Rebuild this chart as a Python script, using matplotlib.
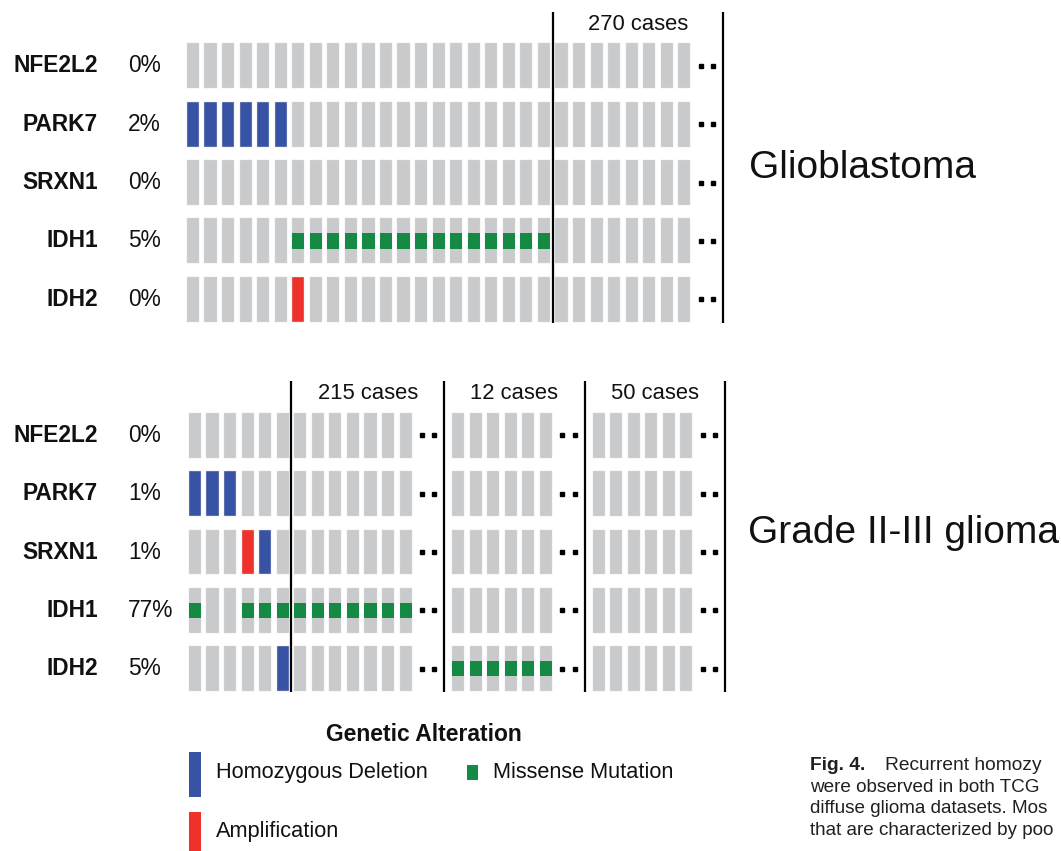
import matplotlib.pyplot as plt
import matplotlib.transforms as mtransforms

plt.rcParams['font.family'] = ['Liberation Sans', 'DejaVu Sans']

genes = ['NFE2L2', 'PARK7', 'SRXN1', 'IDH1', 'IDH2']

# Glioblastoma panel
gbm_pct = ['0%', '2%', '0%', '5%', '0%']
gbm_blocks = [21, 8]                 # shown samples per block
gbm_dotted = [False, True]           # block is followed by ".."
gbm_case_labels = [None, '270 cases']
gbm_deletion = {'PARK7': [0, 1, 2, 3, 4, 5]}
gbm_amplification = {'IDH2': [6]}
gbm_missense = {'IDH1': [6, 7, 8, 9, 10, 11, 12, 13, 14, 15, 16, 17, 18, 19, 20]}

# Grade II-III glioma panel
lgg_pct = ['0%', '1%', '1%', '77%', '5%']
lgg_blocks = [6, 7, 6, 6]
lgg_dotted = [False, True, True, True]
lgg_case_labels = [None, '215 cases', '12 cases', '50 cases']
lgg_deletion = {'PARK7': [0, 1, 2], 'SRXN1': [4], 'IDH2': [5]}
lgg_amplification = {'SRXN1': [3]}
lgg_missense = {'IDH1': [0, 3, 4, 5, 6, 7, 8, 9, 10, 11, 12],
                'IDH2': [13, 14, 15, 16, 17, 18]}

legend_labels = ['Homozygous Deletion', 'Missense Mutation', 'Amplification']
legend_kinds = ['deletion', 'missense', 'amplification']

colors = {'none': '#c9cacc', 'deletion': '#3953a4',
          'amplification': '#ee322b', 'missense': '#168a45'}
text_col = '#111111'


def layout(blocks, dotted):
    # x position of every shown sample, dividers, dots and label spans
    xs, dividers, dots, spans = [], [], [], []
    x = 0
    left = -0.5
    for n, d in zip(blocks, dotted):
        xs += [x + k for k in range(n)]
        end = x + n - 1
        if d:
            dots += [end + 0.93, end + 1.64]
            div = end + 2.2
            x = end + 3
        else:
            div = end + 0.5
            x = end + 1
        dividers.append(div)
        spans.append((left, div))
        left = div
    return xs, dividers, dots, spans


def draw_panel(ax, pct, blocks, dotted, case_labels, deletion, amplification, missense):
    xs, dividers, dots, spans = layout(blocks, dotted)
    h = 0.77
    w = 0.69
    trans = mtransforms.blended_transform_factory(fig.transFigure, ax.transData)
    for r, g in enumerate(genes):
        full = [colors['none']] * len(xs)
        for i in deletion.get(g, []):
            full[i] = colors['deletion']
        for i in amplification.get(g, []):
            full[i] = colors['amplification']
        ax.bar(xs, h, bottom=r - h / 2, width=w, color=full,
               edgecolor='#dcdddf', linewidth=0.3)
        mis = missense.get(g, [])
        if mis:
            ax.bar([xs[i] for i in mis], 0.26, bottom=r - 0.13, width=w,
                   color=colors['missense'], linewidth=0)
        ax.plot(dots, [r] * len(dots), 's', color='black', markersize=3.3,
                linestyle='none')
        ax.text(0.0924, r, g, transform=trans, ha='right', va='center',
                fontsize=16.4, fontweight='bold', color=text_col)
        ax.text(0.1206, r, pct[r], transform=trans, ha='left', va='center',
                fontsize=16.4, color=text_col)
    for div in dividers:
        ax.vlines(div, -0.92, 4.40, color='black', linewidth=1.6)
    for (a, b), lab in zip(spans, case_labels):
        if lab:
            ax.text((a + b) / 2, -0.71, lab, ha='center', va='center',
                    fontsize=15.8, color=text_col)
    ax.set_xlim(-0.5, 31)
    ax.set_ylim(4.5, -1.0)
    ax.axis('off')


fig = plt.figure(figsize=(10.61, 8.51), dpi=100)
ax_top = fig.add_axes([0.1736, 0.6139, 0.5210, 0.3774])
ax_bot = fig.add_axes([0.1755, 0.1798, 0.5210, 0.3774])

draw_panel(ax_top, gbm_pct, gbm_blocks, gbm_dotted, gbm_case_labels,
           gbm_deletion, gbm_amplification, gbm_missense)
draw_panel(ax_bot, lgg_pct, lgg_blocks, lgg_dotted, lgg_case_labels,
           lgg_deletion, lgg_amplification, lgg_missense)

fig.text(0.706, 0.8026, 'Glioblastoma', fontsize=28, va='center', color=text_col)
fig.text(0.705, 0.3737, 'Grade II-III glioma', fontsize=28, va='center', color=text_col)

# legend, laid out under the lower panel
leg_x = [0, 15.81, 0]
leg_y = [5.81, 5.77, 6.83]
leg_text_y = [5.77, 5.77, 6.78]
ax_bot.text(13.05, 5.12, 'Genetic Alteration', ha='center', va='center',
            fontsize=16.5, fontweight='bold', color=text_col, clip_on=False)
for lab, kind, lx, ly, ty in zip(legend_labels, legend_kinds, leg_x, leg_y, leg_text_y):
    if kind == 'missense':
        ax_bot.bar(lx, 0.26, bottom=ly - 0.13, width=0.63, color=colors[kind],
                   clip_on=False)
    else:
        ax_bot.bar(lx, 0.77, bottom=ly - 0.385, width=0.68, color=colors[kind],
                   clip_on=False)
    ax_bot.text(lx + 1.17, ty, lab, ha='left', va='center', fontsize=15.7,
                color=text_col, clip_on=False)

# caption fragment at the bottom right
cap_col = '#231f20'
fig.text(0.7634, 1 - 766 / 851, 'Fig. 4.', fontsize=13.8, fontweight='bold',
         va='center', color=cap_col)
fig.text(0.834, 1 - 766 / 851, 'Recurrent homozy', fontsize=13.8,
         va='center', color=cap_col)
cap_lines = ['were observed in both TCG', 'diffuse glioma datasets. Mos',
             'that are characterized by poo']
for k, line in enumerate(cap_lines):
    fig.text(0.7634, 1 - (787 + 21.7 * k) / 851, line, fontsize=13.6,
             va='center', color=cap_col)

fig.savefig('out.png', dpi=100)
